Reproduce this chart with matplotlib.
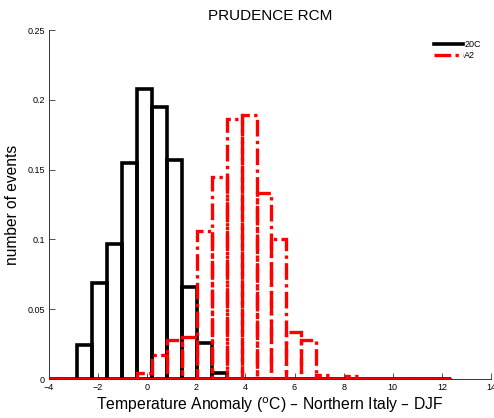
import matplotlib
matplotlib.use('Agg')
import matplotlib.pyplot as plt
from matplotlib.lines import Line2D
import numpy as np

plt.rcParams['font.family'] = ['Liberation Sans', 'DejaVu Sans']

# histogram bins (degC), common grid for both runs
bin_start = -4.06
bin_width = 0.608
n_bins = 27
edges = bin_start + bin_width * np.arange(n_bins + 1)

# relative frequency per bin
freq_20c = [0, 0, 0.024, 0.069, 0.0965, 0.155, 0.208, 0.195, 0.157, 0.066,
            0.026, 0.004, 0, 0, 0, 0, 0, 0, 0, 0, 0, 0, 0, 0, 0, 0, 0]
freq_a2 = [0, 0, 0, 0, 0, 0, 0.004, 0.017, 0.028, 0.030, 0.106, 0.145,
           0.186, 0.189, 0.133, 0.100, 0.034, 0.028, 0.003, 0, 0.002,
           0, 0, 0, 0, 0, 0]

xticks = [-4, -2, 0, 2, 4, 6, 8, 10, 12, 14]
yticks = [0, 0.05, 0.1, 0.15, 0.2, 0.25]
ytick_labels = ['0', '0.05', '0.1', '0.15', '0.2', '0.25']

RED_DASH = (0, (5, 1.3, 1, 1.3))

fig = plt.figure(figsize=(4.94, 4.18), dpi=100)
ax = fig.add_axes([0.0992, 0.0933, 0.8947, 0.8349])

ax.bar(edges[:-1], freq_20c, width=bin_width, align='edge', fill=False,
       edgecolor='black', linewidth=2.6, zorder=2)
ax.bar(edges[:-1], freq_a2, width=bin_width, align='edge', fill=False,
       edgecolor='#ff0000', linewidth=2.4, linestyle=RED_DASH, zorder=3)

ax.set_xlim(-4, 14)
ax.set_ylim(0, 0.25)
ax.set_xticks(xticks)
ax.set_xticklabels([str(t).replace('-', '\u2212') for t in xticks])
ax.set_yticks(yticks)
ax.set_yticklabels(ytick_labels)
ax.tick_params(direction='in', length=4, width=0.6, labelsize=6.5, pad=3,
               color='#333333')

for s in ['top', 'right']:
    ax.spines[s].set_visible(False)
for s in ['left', 'bottom']:
    ax.spines[s].set_linewidth(0.7)
    ax.spines[s].set_color('#333333')

ax.set_title('PRUDENCE RCM', fontsize=11, pad=7)
ax.set_xlabel('Temperature Anomaly ($^{\\rm o}$C) \u2013 Northern Italy \u2013 DJF',
              fontsize=11.3, labelpad=2)
ax.set_ylabel('number of events', fontsize=11.2, labelpad=5)

handles = [Line2D([], [], color='black', linewidth=2.6),
           Line2D([], [], color='#ff0000', linewidth=2.4, linestyle=RED_DASH)]
ax.legend(handles, ['20C', 'A2'], loc='upper left', bbox_to_anchor=(0.86, 0.985),
          frameon=False, fontsize=6.5, handlelength=3.3, handletextpad=0.1,
          labelspacing=0.25, borderpad=0)

fig.savefig('out.png', dpi=100, facecolor='white')
